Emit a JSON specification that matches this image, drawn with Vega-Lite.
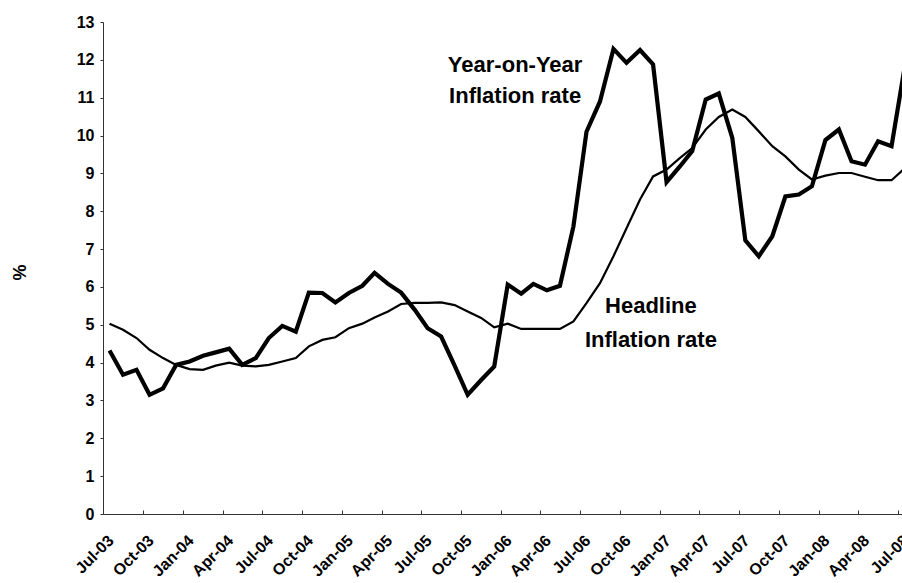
{
  "$schema": "https://vega.github.io/schema/vega-lite/v6.json",
  "width": 799,
  "height": 492,
  "autosize": "none",
  "padding": {"left": 103, "top": 22, "right": 0, "bottom": 69},
  "background": "white",
  "config": {"view": {"stroke": null}, "font": "Liberation Sans"},
  "data": {"values": [
    {"date": "2003-07-16", "yoy": 4.32, "headline": 5.03},
    {"date": "2003-08-16", "yoy": 3.68, "headline": 4.87},
    {"date": "2003-09-16", "yoy": 3.81, "headline": 4.65},
    {"date": "2003-10-16", "yoy": 3.15, "headline": 4.34},
    {"date": "2003-11-16", "yoy": 3.32, "headline": 4.12},
    {"date": "2003-12-16", "yoy": 3.94, "headline": 3.94},
    {"date": "2004-01-16", "yoy": 4.03, "headline": 3.83},
    {"date": "2004-02-16", "yoy": 4.18, "headline": 3.81},
    {"date": "2004-03-16", "yoy": 4.27, "headline": 3.92},
    {"date": "2004-04-16", "yoy": 4.37, "headline": 4.0},
    {"date": "2004-05-16", "yoy": 3.94, "headline": 3.92},
    {"date": "2004-06-16", "yoy": 4.12, "headline": 3.9},
    {"date": "2004-07-16", "yoy": 4.65, "headline": 3.94},
    {"date": "2004-08-16", "yoy": 4.97, "headline": 4.03},
    {"date": "2004-09-16", "yoy": 4.82, "headline": 4.12},
    {"date": "2004-10-16", "yoy": 5.85, "headline": 4.43},
    {"date": "2004-11-16", "yoy": 5.84, "headline": 4.6},
    {"date": "2004-12-16", "yoy": 5.59, "headline": 4.67},
    {"date": "2005-01-16", "yoy": 5.84, "headline": 4.91},
    {"date": "2005-02-16", "yoy": 6.03, "headline": 5.03},
    {"date": "2005-03-16", "yoy": 6.37, "headline": 5.19},
    {"date": "2005-04-16", "yoy": 6.08, "headline": 5.35},
    {"date": "2005-05-16", "yoy": 5.85, "headline": 5.55},
    {"date": "2005-06-16", "yoy": 5.4, "headline": 5.58},
    {"date": "2005-07-16", "yoy": 4.91, "headline": 5.58},
    {"date": "2005-08-16", "yoy": 4.69, "headline": 5.59},
    {"date": "2005-09-16", "yoy": 3.92, "headline": 5.52},
    {"date": "2005-10-16", "yoy": 3.15, "headline": 5.35},
    {"date": "2005-11-16", "yoy": 3.54, "headline": 5.18},
    {"date": "2005-12-16", "yoy": 3.9, "headline": 4.93},
    {"date": "2006-01-16", "yoy": 6.06, "headline": 5.03},
    {"date": "2006-02-16", "yoy": 5.82, "headline": 4.89},
    {"date": "2006-03-16", "yoy": 6.08, "headline": 4.89},
    {"date": "2006-04-16", "yoy": 5.91, "headline": 4.89},
    {"date": "2006-05-16", "yoy": 6.03, "headline": 4.89},
    {"date": "2006-06-16", "yoy": 7.6, "headline": 5.09},
    {"date": "2006-07-16", "yoy": 10.1, "headline": 5.57},
    {"date": "2006-08-16", "yoy": 10.9, "headline": 6.1},
    {"date": "2006-09-16", "yoy": 12.29, "headline": 6.81},
    {"date": "2006-10-16", "yoy": 11.92, "headline": 7.55},
    {"date": "2006-11-16", "yoy": 12.26, "headline": 8.31},
    {"date": "2006-12-16", "yoy": 11.88, "headline": 8.92},
    {"date": "2007-01-16", "yoy": 8.77, "headline": 9.1},
    {"date": "2007-02-16", "yoy": 9.19, "headline": 9.41},
    {"date": "2007-03-16", "yoy": 9.59, "headline": 9.67},
    {"date": "2007-04-16", "yoy": 10.95, "headline": 10.16},
    {"date": "2007-05-16", "yoy": 11.11, "headline": 10.49},
    {"date": "2007-06-16", "yoy": 9.94, "headline": 10.69},
    {"date": "2007-07-16", "yoy": 7.23, "headline": 10.49},
    {"date": "2007-08-16", "yoy": 6.81, "headline": 10.11},
    {"date": "2007-09-16", "yoy": 7.34, "headline": 9.72},
    {"date": "2007-10-16", "yoy": 8.39, "headline": 9.45},
    {"date": "2007-11-16", "yoy": 8.44, "headline": 9.1},
    {"date": "2007-12-16", "yoy": 8.66, "headline": 8.84},
    {"date": "2008-01-16", "yoy": 9.88, "headline": 8.94},
    {"date": "2008-02-16", "yoy": 10.16, "headline": 9.01},
    {"date": "2008-03-16", "yoy": 9.32, "headline": 9.01},
    {"date": "2008-04-16", "yoy": 9.23, "headline": 8.91},
    {"date": "2008-05-16", "yoy": 9.85, "headline": 8.82},
    {"date": "2008-06-16", "yoy": 9.72, "headline": 8.82},
    {"date": "2008-07-16", "yoy": 11.8, "headline": 9.13}
  ]},
  "encoding": {
    "x": {
      "field": "date", "type": "temporal",
      "scale": {"domain": ["2003-07-01", "2008-07-10"], "nice": false},
      "axis": {
        "title": null, "grid": false, "format": "%b-%y",
        "tickCount": {"interval": "month", "step": 3},
        "labelAngle": 315, "labelAlign": "right", "labelBaseline": "top",
        "labelFont": "Liberation Sans", "labelFontWeight": "bold",
        "labelFontSize": 16, "labelColor": "#000", "labelOverlap": false,
        "labelPadding": 22, "labelFlush": false, "labelBound": false, "labelOffset": 2,
        "domainColor": "#333", "tickColor": "#333", "tickSize": -4
      }
    },
    "y": {
      "type": "quantitative",
      "scale": {"domain": [0, 13], "nice": false, "zero": true},
      "axis": {
        "title": "%", "grid": false, "values": [0,1,2,3,4,5,6,7,8,9,10,11,12,13],
        "labelFont": "Liberation Sans", "labelFontWeight": "bold", "labelFontSize": 16,
        "labelColor": "#000", "labelPadding": 6, "tickSize": 3,
        "domainColor": "#333", "tickColor": "#333",
        "titleFont": "Liberation Sans", "titleFontWeight": "bold", "titleFontSize": 18,
        "titleColor": "#000", "titleX": -83, "titleY": 250, "titleAngle": 270,
        "titleAlign": "center", "titleBaseline": "middle"
      }
    }
  },
  "layer": [
    {
      "mark": {"type": "line", "color": "#000", "strokeWidth": 2.2, "clip": true},
      "encoding": {"y": {"field": "headline", "type": "quantitative"}}
    },
    {
      "mark": {"type": "line", "color": "#000", "strokeWidth": 4.2, "clip": true},
      "encoding": {"y": {"field": "yoy", "type": "quantitative"}}
    },
    {
      "data": {"values": [
        {"date": "2006-02-02", "value": 11.68, "label": "Year-on-Year"},
        {"date": "2006-02-02", "value": 10.86, "label": "Inflation rate"},
        {"date": "2006-12-11", "value": 5.31, "label": "Headline"},
        {"date": "2006-12-11", "value": 4.41, "label": "Inflation rate"}
      ]},
      "mark": {"type": "text", "font": "Liberation Sans", "fontWeight": "bold", "fontSize": 22, "align": "center", "baseline": "alphabetic", "color": "#000"},
      "encoding": {
        "y": {"field": "value", "type": "quantitative"},
        "text": {"field": "label"}
      }
    }
  ]
}
